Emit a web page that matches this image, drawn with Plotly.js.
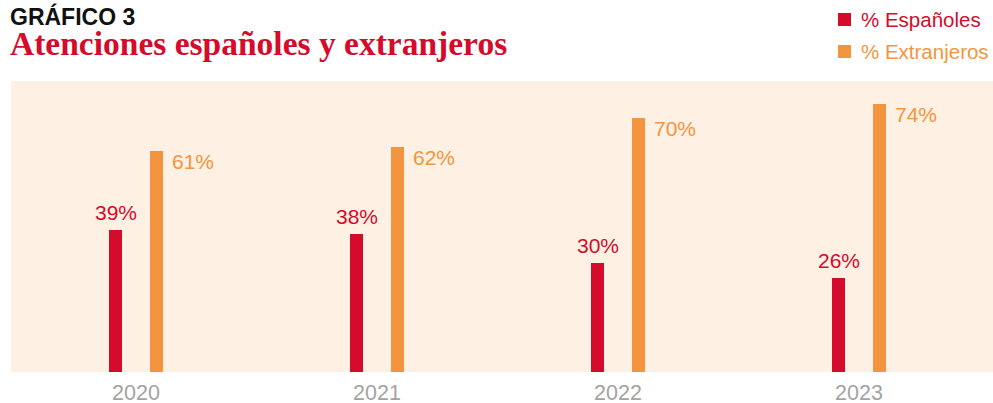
<!DOCTYPE html>
<html>
<head>
<meta charset="utf-8">
<script src="https://cdn.plot.ly/plotly-3.0.1.min.js"></script>
<style>html,body{margin:0;padding:0;background:#fff;}#chart{width:993px;height:403px;}</style>
</head>
<body>
<div id="chart"></div>
<script>
const years = ["2020", "2021", "2022", "2023"];
const espanoles = [39, 38, 30, 26];
const extranjeros = [61, 62, 70, 74];
const seriesNames = ["% Españoles", "% Extranjeros"];
const kicker = "GRÁFICO 3";
const titleText = "Atenciones españoles y extranjeros";

const RED = "#D50B2C";
const ORANGE = "#F4943F";
const BG = "#FEF1E3";
const idx = years.map((_, i) => i);

const traces = [
  {type: "bar", x: idx, y: espanoles, name: seriesNames[0], marker: {color: RED},
   width: 0.054, offset: -0.112, hoverinfo: "skip", showlegend: false},
  {type: "bar", x: idx, y: extranjeros, name: seriesNames[1], marker: {color: ORANGE},
   width: 0.054, offset: 0.058, hoverinfo: "skip", showlegend: false}
];

const ann = [];
const lblFont = {family: "Liberation Sans, Arial, sans-serif", size: 21};
idx.forEach(i => {
  ann.push({x: i - 0.085, y: espanoles[i], xref: "x", yref: "y", text: espanoles[i] + "%",
    showarrow: false, xanchor: "center", yanchor: "bottom", yshift: 4,
    font: Object.assign({color: RED}, lblFont)});
  ann.push({x: i + 0.112, y: extranjeros[i], xref: "x", yref: "y", text: extranjeros[i] + "%",
    showarrow: false, xanchor: "left", yanchor: "top", xshift: 7, yshift: 3,
    font: Object.assign({color: ORANGE}, lblFont)});
});

// titles (one text block, two styled lines)
const H = 291; // plot height in px
function py(pix) { return (372 - pix) / H; }
function px(pix) { return (pix - 11) / 982; }
ann.push({xref: "paper", yref: "paper", x: px(8), y: py(1), xanchor: "left", yanchor: "top", align: "left",
  text: '<span style="font-family:Liberation Sans, Arial, sans-serif;font-size:23px;color:#111111"><b>' + kicker +
        '</b></span><br><span style="font-family:Liberation Serif, Times New Roman, serif;font-size:33.5px;color:' + RED +
        '"><b>' + titleText + '</b></span>',
  showarrow: false,
  font: {family: "Liberation Sans, Arial, sans-serif", size: 23, color: "#111111"}});

// legend
const legColors = [RED, ORANGE];
const legY = [19.5, 51.5];
const shapes = [];
seriesNames.forEach((n, k) => {
  shapes.push({type: "rect", xref: "paper", yref: "paper",
    x0: px(838), x1: px(851), y0: py(legY[k] + 6.5), y1: py(legY[k] - 6.5),
    fillcolor: legColors[k], line: {width: 0}});
  ann.push({xref: "paper", yref: "paper", x: px(859), y: py(legY[k]), xanchor: "left", yanchor: "middle",
    text: n, showarrow: false,
    font: {family: "Liberation Sans, Arial, sans-serif", size: 20.5, color: legColors[k]}});
});

const layout = {
  width: 993, height: 403,
  margin: {l: 11, r: 0, t: 81, b: 31, pad: 0},
  paper_bgcolor: "#ffffff", plot_bgcolor: BG,
  showlegend: false,
  xaxis: {range: [-0.5187, 3.556], tickvals: idx, ticktext: years, showgrid: false, zeroline: false,
    showline: false, ticks: "", fixedrange: true, ticklabelstandoff: 5,
    tickfont: {family: "Liberation Sans, Arial, sans-serif", size: 21.5, color: "#A3A3A3"}},
  yaxis: {range: [0, 80.2], showgrid: false, zeroline: false, showticklabels: false, showline: false, ticks: ""},
  annotations: ann,
  shapes: shapes,
  bargap: 0
};

Plotly.newPlot("chart", traces, layout, {displayModeBar: false, staticPlot: true});
</script>
</body>
</html>
